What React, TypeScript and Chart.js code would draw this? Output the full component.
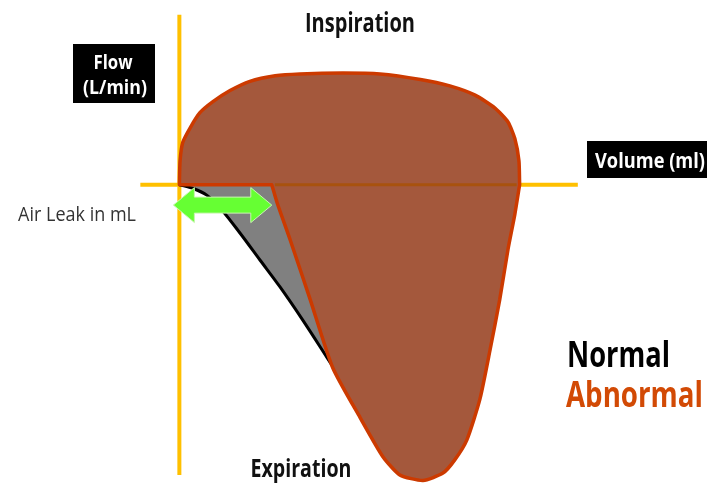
import React, { useEffect, useRef } from "react";
import { Chart, registerables } from "chart.js";

Chart.register(...registerables);

// ---- data (volume in ml, flow in L/min) ----
const inspirationVolume = [0, 1, 5, 16, 30, 49, 74, 103, 140, 176, 239, 293, 352, 395, 432, 461, 480, 490, 496, 497];
const inspirationFlow = [0, 13, 23, 31, 39, 45, 51, 56, 59, 60, 60.5, 60, 57, 53.5, 48.5, 41.5, 34, 25, 13, 0];

const abnormalExpVolume = [497, 490, 480, 468, 454, 439, 420, 402, 385, 356, 322, 297, 264, 224, 191, 162, 143, 135];
const abnormalExpFlow = [0, -16, -35, -62, -89, -116, -138, -149, -156, -160, -157, -147, -126, -99, -62, -30, -10, 0];

const leakVolume = 135;
const leakArrowFlow = -11;

const normalExpVolume = [0, 20, 40, 62, 88.5, 117.7, 147, 180.5, 215.5, 231.6];
const normalExpFlow = [0, -2, -5.6, -13.6, -26.1, -40.7, -55.3, -73.4, -93.4, -102.6];

// axis extents (data units)
const volumeAxisRange = [-57, 582];
const flowAxisRange = [-157, 92];
const volumeView = [-262, 778];
const flowView = [-163, 100];

const toPoints = (xs: number[], ys: number[]) => xs.map((x, i) => ({ x, y: ys[i] }));

const abnormalLoop = [
  ...toPoints(inspirationVolume, inspirationFlow),
  ...toPoints(abnormalExpVolume, abnormalExpFlow),
  { x: leakVolume, y: 0 },
  { x: 0, y: 0 },
];
const normalCurve = toPoints(normalExpVolume, normalExpFlow);
const leakSliver = [...normalCurve, { x: leakVolume, y: 0 }];

const CAP = 0.714;

function fitText(
  ctx: CanvasRenderingContext2D,
  text: string,
  x: number,
  baseline: number,
  capPx: number,
  weight: string,
  color: string,
  width: number,
  align: "left" | "center"
) {
  const size = capPx / CAP;
  ctx.save();
  ctx.font = `${weight} ${size}px "Open Sans"`;
  ctx.fillStyle = color;
  ctx.textBaseline = "alphabetic";
  ctx.textAlign = "left";
  const w = ctx.measureText(text).width;
  const s = width / w;
  const left = align === "center" ? x - width / 2 : x;
  ctx.translate(left, baseline);
  ctx.scale(s, 1);
  ctx.fillText(text, 0, 0);
  ctx.restore();
}

const decorPlugin = {
  id: "decor",
  beforeDatasetsDraw(chart: any) {
    const { ctx, scales } = chart;
    const xs = scales.x;
    const ys = scales.y;
    ctx.save();
    ctx.strokeStyle = "#FFC000";
    ctx.lineWidth = 4;
    ctx.beginPath();
    ctx.moveTo(xs.getPixelForValue(0), ys.getPixelForValue(flowAxisRange[1]));
    ctx.lineTo(xs.getPixelForValue(0), ys.getPixelForValue(flowAxisRange[0]));
    ctx.moveTo(xs.getPixelForValue(volumeAxisRange[0]), ys.getPixelForValue(0));
    ctx.lineTo(xs.getPixelForValue(volumeAxisRange[1]), ys.getPixelForValue(0));
    ctx.stroke();
    ctx.restore();
  },
  afterDatasetsDraw(chart: any) {
    const { ctx, scales } = chart;
    const xs = scales.x;
    const ys = scales.y;
    const y0 = ys.getPixelForValue(0);
    // axis seen through the loop
    ctx.save();
    ctx.strokeStyle = "#A8520E";
    ctx.lineWidth = 3;
    ctx.beginPath();
    ctx.moveTo(xs.getPixelForValue(leakVolume) + 3, y0);
    ctx.lineTo(xs.getPixelForValue(inspirationVolume[inspirationVolume.length - 1]) - 3, y0);
    ctx.stroke();
    ctx.restore();

    // green double arrow for the leak
    const ay = ys.getPixelForValue(leakArrowFlow);
    const lx = xs.getPixelForValue(0) - 6;
    const rx = xs.getPixelForValue(leakVolume);
    const head = 21;
    const hh = 17.5;
    const sh = 8;
    ctx.save();
    ctx.fillStyle = "#66FF33";
    ctx.strokeStyle = "#C8F5B0";
    ctx.lineWidth = 1;
    ctx.beginPath();
    ctx.moveTo(lx, ay);
    ctx.lineTo(lx + head, ay - hh);
    ctx.lineTo(lx + head, ay - sh);
    ctx.lineTo(rx - head, ay - sh);
    ctx.lineTo(rx - head, ay - hh);
    ctx.lineTo(rx, ay);
    ctx.lineTo(rx - head, ay + hh);
    ctx.lineTo(rx - head, ay + sh);
    ctx.lineTo(lx + head, ay + sh);
    ctx.lineTo(lx + head, ay + hh);
    ctx.closePath();
    ctx.fill();
    ctx.stroke();
    ctx.restore();

    // label boxes
    ctx.save();
    ctx.fillStyle = "#000";
    ctx.fillRect(73, 44, 82, 59);
    ctx.fillRect(587, 141, 120, 37);
    ctx.restore();

    fitText(ctx, "Flow", 113, 68.5, 13.5, "700", "#fff", 39, "center");
    fitText(ctx, "(L/min)", 115, 93.5, 13.5, "700", "#fff", 64, "center");
    fitText(ctx, "Volume (ml)", 650, 167.5, 15.5, "700", "#fff", 110, "center");
    fitText(ctx, "Inspiration", 360, 32.3, 19, "700", "#111", 110, "center");
    fitText(ctx, "Expiration", 301, 477.3, 18, "700", "#111", 101, "center");
    fitText(ctx, "Air Leak in mL", 18, 220.7, 14.5, "400", "#333", 118, "left");
    fitText(ctx, "Normal", 567, 366.7, 26, "700", "#000", 103, "left");
    fitText(ctx, "Abnormal", 566, 407.3, 26, "700", "#D24A05", 137, "left");
  },
};

export default function App() {
  const ref = useRef<HTMLCanvasElement | null>(null);
  useEffect(() => {
    if (!ref.current) return;
    const chart = new Chart(ref.current, {
      type: "line",
      data: {
        datasets: [
          {
            label: "Abnormal",
            data: abnormalLoop,
            borderColor: "#CC3A00",
            backgroundColor: "#A4583C",
            borderWidth: 3.5,
            borderJoinStyle: "round",
            borderCapStyle: "round",
            fill: "shape",
            tension: 0.2,
            pointRadius: 0,
            order: 0,
          },
          {
            label: "Normal",
            data: normalCurve,
            borderColor: "#000",
            borderWidth: 3,
            fill: false,
            tension: 0.3,
            pointRadius: 0,
            order: 1,
          },
          {
            label: "Leak",
            data: leakSliver,
            borderWidth: 0,
            borderColor: "rgba(0,0,0,0)",
            backgroundColor: "#808080",
            fill: "shape",
            tension: 0.3,
            pointRadius: 0,
            order: 2,
          },
        ],
      },
      options: {
        animation: false,
        responsive: false,
        layout: { padding: 0 },
        plugins: { legend: { display: false }, tooltip: { enabled: false } },
        scales: {
          x: { type: "linear", min: volumeView[0], max: volumeView[1], display: false },
          y: { type: "linear", min: flowView[0], max: flowView[1], display: false },
        },
      } as any,
      plugins: [decorPlugin],
    });
    return () => chart.destroy();
  }, []);
  return (
    <div style={{ position: "absolute", left: 0, top: 0, width: 712, height: 486, background: "#fff" }}>
      <canvas ref={ref} width={712} height={486} />
    </div>
  );
}
